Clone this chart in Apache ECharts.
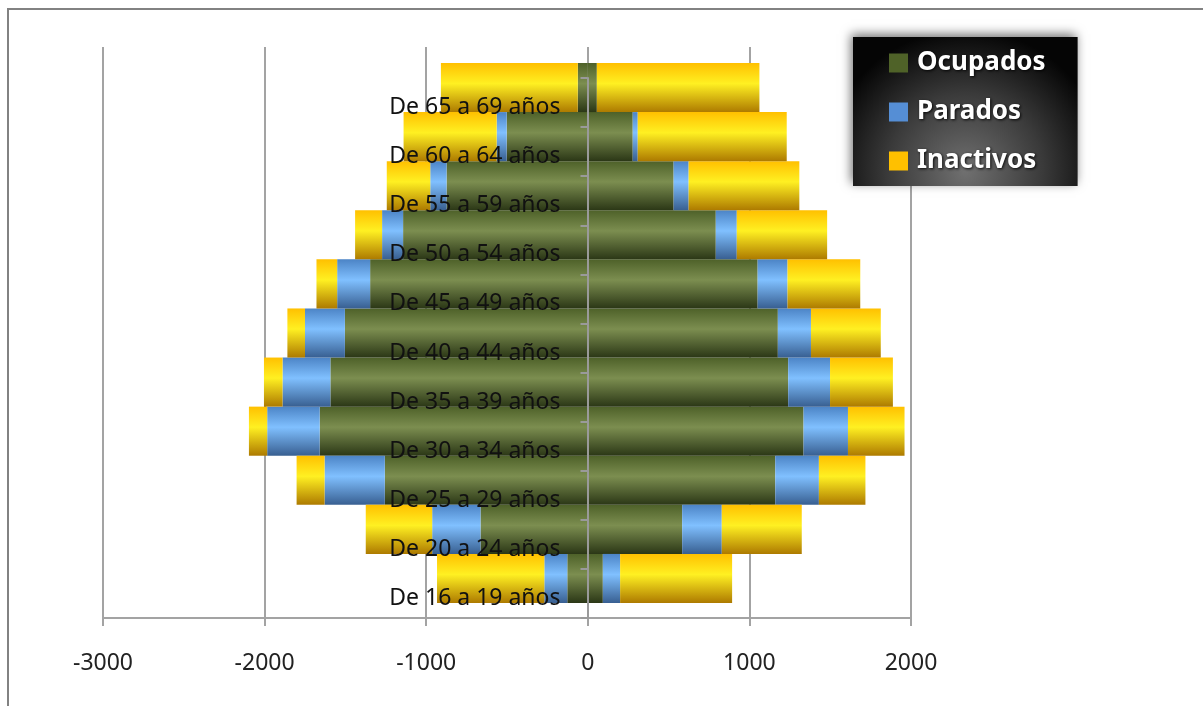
<!DOCTYPE html>
<html>
<head>
<meta charset="utf-8">
<script src="https://cdn.jsdelivr.net/npm/echarts@6/dist/echarts.min.js"></script>
<style>
html,body{margin:0;padding:0;background:#fff;}
#c{width:1203px;height:706px;}
</style>
</head>
<body>
<div id="c"></div>
<script>
// Categories (bottom to top)
const categories = ['De 16 a 19 años','De 20 a 24 años','De 25 a 29 años','De 30 a 34 años','De 35 a 39 años','De 40 a 44 años','De 45 a 49 años','De 50 a 54 años','De 55 a 59 años','De 60 a 64 años','De 65 a 69 años'];
// Left side (drawn as negative values)
const ocupadosLeft  = [127, 664, 1256, 1659, 1593, 1503, 1347, 1143, 874, 502, 62];
const paradosLeft   = [142, 299, 373, 325, 296, 247, 204, 130, 101, 62, 0];
const inactivosLeft = [664, 411, 173, 113, 115, 109, 128, 167, 269, 576, 847];
// Right side
const ocupadosRight  = [93, 584, 1160, 1335, 1240, 1176, 1051, 792, 531, 278, 56];
const paradosRight   = [107, 245, 270, 275, 259, 205, 185, 130, 93, 31, 0];
const inactivosRight = [693, 495, 288, 350, 389, 432, 450, 559, 685, 922, 1006];
// Axis ticks
const xTicks = {min: -3000, max: 2000, interval: 1000};

const FONT = 'Noto Sans';
function grad(c0, c1, c2) {
  return new echarts.graphic.LinearGradient(0, 0, 0, 1, [
    {offset: 0, color: c0},
    {offset: 0.42, color: c1},
    {offset: 1, color: c2}
  ]);
}
const colOcup = grad('#4e6129', '#7c8e50', '#2b3716');
const colPar  = grad('#4c84c6', '#80c0ff', '#385f91');
const colIna  = grad('#ffc000', '#fff022', '#ad7a00');
const neg = a => a.map(v => -v);

const barBase = {type: 'bar', stack: 'all', xAxisIndex: 1, yAxisIndex: 1, barCategoryGap: '0%', z: 2};

const chart = echarts.init(document.getElementById('c'));
chart.setOption({
  animation: false,
  backgroundColor: '#ffffff',
  graphic: [{
    type: 'polyline',
    shape: {points: [[8, 706], [8, 9], [1203, 9]]},
    style: {stroke: '#828282', lineWidth: 2, fill: null},
    z: 0
  }],
  legend: {
    orient: 'vertical',
    left: 853, top: 37,
    padding: [13, 32, 12, 36],
    itemWidth: 19, itemHeight: 19, itemGap: 23,
    icon: 'rect',
    backgroundColor: {
      type: 'radial', x: 0.5, y: 0.9, r: 0.95,
      colorStops: [{offset: 0, color: '#707070'}, {offset: 0.55, color: '#3a3a3a'}, {offset: 1, color: '#050505'}]
    },
    shadowBlur: 10, shadowColor: 'rgba(0,0,0,0.55)', shadowOffsetX: -2, shadowOffsetY: -3,
    textStyle: {color: '#ffffff', fontFamily: FONT, fontWeight: 'bold', fontSize: 26, lineHeight: 25,
      textShadowColor: 'rgba(0,0,0,0.9)', textShadowBlur: 3, textShadowOffsetX: 1, textShadowOffsetY: 1, padding: [0,0,0,4]},
    data: [
      {name: 'Ocupados', itemStyle: {color: '#4f6228'}},
      {name: 'Parados', itemStyle: {color: '#558ed5'}},
      {name: 'Inactivos', itemStyle: {color: '#ffc000'}}
    ]
  },
  grid: [
    {left: 103, right: 292, top: 47, bottom: 88},
    {left: 103, right: 292, top: 63, bottom: 103},
    {left: 587.5, width: 60, top: 78, bottom: 88}
  ],
  xAxis: [
    {gridIndex: 0, type: 'value', min: xTicks.min, max: xTicks.max, interval: xTicks.interval,
      axisLine: {show: true, lineStyle: {color: '#a3a3a3', width: 2}},
      axisTick: {show: true, length: 8, lineStyle: {color: '#a3a3a3', width: 2}},
      splitLine: {show: true, lineStyle: {color: '#a3a3a3', width: 2}},
      axisLabel: {fontFamily: FONT, fontSize: 23, color: '#222', margin: 34, formatter: v => String(v)}},
    {gridIndex: 1, type: 'value', min: xTicks.min, max: xTicks.max, interval: xTicks.interval, show: false},
    {gridIndex: 2, type: 'value', min: 0, max: 1, show: false}
  ],
  yAxis: [
    {gridIndex: 0, type: 'value', min: 0, max: 1, show: false},
    {gridIndex: 1, type: 'category', data: categories, show: false},
    {gridIndex: 2, type: 'category', data: categories, z: 10,
      axisLine: {show: true, lineStyle: {color: '#9a9a9a', width: 2}},
      axisTick: {show: true, length: 7, lineStyle: {color: '#9a9a9a', width: 2}},
      axisLabel: {fontFamily: FONT, fontSize: 23, color: '#111', margin: 27, verticalAlign: 'top', lineHeight: 10}}
  ],
  series: [
    Object.assign({}, barBase, {name: 'Ocupados', data: neg(ocupadosLeft), itemStyle: {color: colOcup}}),
    Object.assign({}, barBase, {name: 'Parados', data: neg(paradosLeft), itemStyle: {color: colPar}}),
    Object.assign({}, barBase, {name: 'Inactivos', data: neg(inactivosLeft), itemStyle: {color: colIna}}),
    Object.assign({}, barBase, {name: 'Ocupados', data: ocupadosRight, itemStyle: {color: colOcup}}),
    Object.assign({}, barBase, {name: 'Parados', data: paradosRight, itemStyle: {color: colPar}}),
    Object.assign({}, barBase, {name: 'Inactivos', data: inactivosRight, itemStyle: {color: colIna}})
  ]
});
</script>
</body>
</html>
